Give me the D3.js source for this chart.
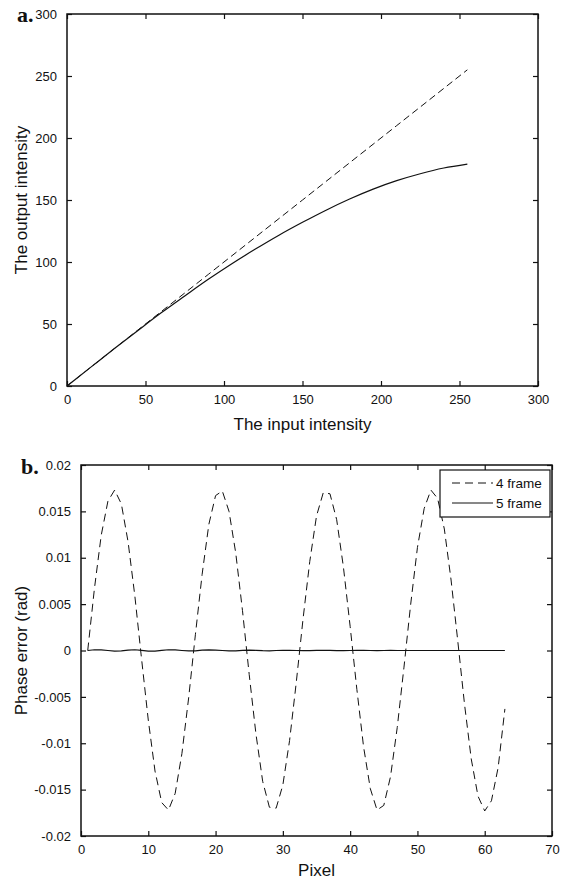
<!DOCTYPE html>
<html lang='en'>
  <meta charset='utf-8'>
  <style>
    body{
      margin: 0;
      background: #fff;
    }
    svg{
      display: block;
    }
    text{
      font-family: 'Liberation Sans', Arial, sans-serif;
      fill: #111;
    }
    text.tick-label{
      font-size: 13px;
    }
    text.axis-title{
      font-size: 17px;
    }
    text.panel{
      font-family: 'Liberation Serif', 'Times New Roman', serif;
      font-weight: bold;
      font-size: 22px;
    }
    text.legend{
      font-size: 13.5px;
    }
  </style>
  <body>
    <svg width='565' height='879'></svg>

    <script src='https://d3js.org/d3.v7.min.js'></script>
    <script>
      // a. input / output intensity
      let inputLevels = [0, 15, 30, 45, 60, 75, 90, 105, 120, 135, 150, 165, 180, 195, 210, 225, 240, 255]
      let idealOutput = [0, 15, 30, 45, 60, 75, 90, 105, 120, 135, 150, 165, 180, 195, 210, 225, 240, 255]
      let realOutput = [0, 15, 30, 44.6, 59, 72.6, 86, 98.6, 110.4, 121.6, 132, 141.8, 150.8, 158.8, 165.6, 171.2, 175.8, 179]
      let aXTicks = [0, 50, 100, 150, 200, 250, 300]
      let aYTicks = [0, 50, 100, 150, 200, 250, 300]

      // b. phase error along the pixel row
      let pixels = d3.range(1, 64)
      let error4Frame = [
        0, 0.0067, 0.0124, 0.0161, 0.0173, 0.0158, 0.0117, 0.0059, -0.0009, -0.0075,
        -0.0130, -0.0164, -0.0172, -0.0154, -0.0111, -0.0051, 0.0017, 0.0082, 0.0136, 0.0167,
        0.0172, 0.0150, 0.0105, 0.0043, -0.0026, -0.0090, -0.0141, -0.0169, -0.0170, -0.0145,
        -0.0097, -0.0034, 0.0034, 0.0096, 0.0145, 0.0170, 0.0169, 0.0141, 0.0090, 0.0026,
        -0.0042, -0.0104, -0.0149, -0.0172, -0.0167, -0.0136, -0.0083, -0.0018, 0.0050, 0.0111,
        0.0153, 0.0173, 0.0164, 0.0131, 0.0076, 0.0010, -0.0058, -0.0117, -0.0157, -0.0173,
        -0.0162, -0.0126, -0.0063
      ]
      let error5Frame = [
        0, 0.00008, 0.00006, 0, -0.00006, -0.00004, 0.00004, 0.00008, 0.00002, -0.00006,
        -0.00006, 0.00002, 0.00008, 0.00006, 0, -0.00005, -0.00004, 0.00003, 0.00006, 0.00004,
        0, -0.00004, -0.00003, 0.00002, 0.00004, 0.00002, -0.00002, -0.00003, 0, 0.00002,
        0.00002, 0, -0.00002, -0.00001, 0.00001, 0.00002, 0.00001, -0.00001, -0.00001, 0,
        0.00001, 0.00001, 0, -0.00001, 0, 0.00001, 0, 0, 0, 0,
        0, 0, 0, 0, 0, 0, 0, 0, 0, 0,
        0, 0, 0
      ]
      let bXTicks = [0, 10, 20, 30, 40, 50, 60, 70]
      let bYTicks = [-0.02, -0.015, -0.01, -0.005, 0, 0.005, 0.01, 0.015, 0.02]
      let legendNames = ['4 frame', '5 frame']

      let svg = d3.select('svg')

      // 坐标框，四边都有向内的刻度
      const drawFrame = (x, y, xTicks, yTicks, xFmt, yFmt) => {
        let [x0, x1] = x.range()
        let [y0, y1] = y.range()
        let g = svg.append('g')

        g.append('g')
          .attr('transform', `translate(0,${y0})`)
          .call(d3.axisBottom(x).tickValues(xTicks).tickSize(-5).tickPadding(9).tickFormat(xFmt))
        g.append('g')
          .attr('transform', `translate(0,${y1})`)
          .call(d3.axisTop(x).tickValues(xTicks).tickSize(-5).tickFormat(''))
        g.append('g')
          .attr('transform', `translate(${x0},0)`)
          .call(d3.axisLeft(y).tickValues(yTicks).tickSize(-5).tickPadding(10).tickFormat(yFmt))
        g.append('g')
          .attr('transform', `translate(${x1},0)`)
          .call(d3.axisRight(y).tickValues(yTicks).tickSize(-5).tickFormat(''))

        g.selectAll('.domain').remove()
        g.selectAll('.tick line').attr('stroke', '#111').attr('stroke-width', 1.2)
        g.selectAll('.tick text').attr('class', 'tick-label').attr('font-size', null).attr('font-family', null)

        g.append('rect')
          .attr('x', x0).attr('y', y1)
          .attr('width', x1 - x0).attr('height', y0 - y1)
          .attr('fill', 'none').attr('stroke', '#111').attr('stroke-width', 1.5)
        return g
      }

      // ---- a ----
      let ax = d3.scaleLinear().domain([0, 300]).range([67, 538])
      let ay = d3.scaleLinear().domain([0, 300]).range([386, 14])
      drawFrame(ax, ay, aXTicks, aYTicks, d3.format('d'), d3.format('d'))

      let aLine = d3.line()
        .x((d, i) => ax(inputLevels[i]))
        .y((d) => ay(d))
        .curve(d3.curveMonotoneX)

      svg.append('path')
        .attr('d', aLine(idealOutput))
        .attr('fill', 'none').attr('stroke', '#111').attr('stroke-width', 1)
        .attr('stroke-dasharray', '7,4')
      svg.append('path')
        .attr('d', aLine(realOutput))
        .attr('fill', 'none').attr('stroke', '#111').attr('stroke-width', 1.2)

      svg.append('text').attr('class', 'panel').attr('x', 17).attr('y', 22).text('a.')
      svg.append('text').attr('class', 'axis-title')
        .attr('x', (ax.range()[0] + ax.range()[1]) / 2).attr('y', 430)
        .attr('text-anchor', 'middle').text('The input intensity')
      svg.append('text').attr('class', 'axis-title')
        .attr('transform', `translate(27,${(ay.range()[0] + ay.range()[1]) / 2}) rotate(-90)`)
        .attr('text-anchor', 'middle').text('The output intensity')

      // ---- b ----
      let bx = d3.scaleLinear().domain([0, 70]).range([81, 552])
      let by = d3.scaleLinear().domain([-0.02, 0.02]).range([836, 465])
      drawFrame(bx, by, bXTicks, bYTicks, d3.format('d'), (d) => d === 0 ? '0' : String(+d.toFixed(3)))

      let bLine = d3.line()
        .x((d, i) => bx(pixels[i]))
        .y((d) => by(d))

      svg.append('path')
        .attr('d', bLine(error4Frame))
        .attr('fill', 'none').attr('stroke', '#111').attr('stroke-width', 1)
        .attr('stroke-dasharray', '8,5')
      svg.append('path')
        .attr('d', bLine(error5Frame))
        .attr('fill', 'none').attr('stroke', '#111').attr('stroke-width', 1.2)

      svg.append('text').attr('class', 'panel').attr('x', 21).attr('y', 474).text('b.')
      svg.append('text').attr('class', 'axis-title')
        .attr('x', (bx.range()[0] + bx.range()[1]) / 2).attr('y', 876)
        .attr('text-anchor', 'middle').text('Pixel')
      svg.append('text').attr('class', 'axis-title')
        .attr('transform', `translate(27,${(by.range()[0] + by.range()[1]) / 2}) rotate(-90)`)
        .attr('text-anchor', 'middle').text('Phase error (rad)')

      // 图例
      let legend = svg.append('g').attr('transform', 'translate(440,470)')
      legend.append('rect')
        .attr('width', 110).attr('height', 47)
        .attr('fill', '#fff').attr('stroke', '#111').attr('stroke-width', 1.2)
      legendNames.forEach((name, i) => {
        let yy = 13 + i * 20
        legend.append('line')
          .attr('x1', 12).attr('x2', 53).attr('y1', yy).attr('y2', yy)
          .attr('stroke', '#111').attr('stroke-width', 1)
          .attr('stroke-dasharray', i === 0 ? '8,5' : null)
        legend.append('text').attr('class', 'legend')
          .attr('x', 56).attr('y', yy + 5).text(name)
      })
    </script>
  </body>
</html>
